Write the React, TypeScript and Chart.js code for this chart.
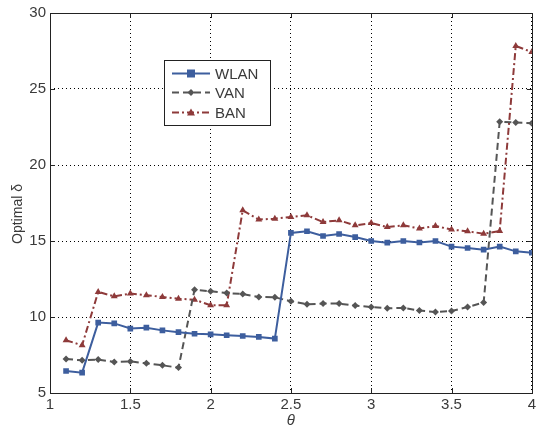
import React, { useEffect, useRef } from "react";
import { Chart, registerables } from "chart.js";

Chart.register(...registerables);

const thetas = [1.1, 1.2, 1.3, 1.4, 1.5, 1.6, 1.7, 1.8, 1.9, 2.0, 2.1, 2.2, 2.3, 2.4, 2.5, 2.6, 2.7, 2.8, 2.9, 3.0, 3.1, 3.2, 3.3, 3.4, 3.5, 3.6, 3.7, 3.8, 3.9, 4.0];
const wlan = [6.45, 6.34, 9.63, 9.58, 9.24, 9.3, 9.12, 9.0, 8.9, 8.86, 8.8, 8.75, 8.69, 8.58, 15.53, 15.64, 15.33, 15.46, 15.26, 15.0, 14.89, 15.0, 14.9, 15.0, 14.63, 14.54, 14.43, 14.63, 14.32, 14.23];
const van = [7.24, 7.15, 7.2, 7.04, 7.08, 6.95, 6.82, 6.67, 11.8, 11.69, 11.58, 11.51, 11.32, 11.3, 11.03, 10.84, 10.88, 10.88, 10.75, 10.66, 10.57, 10.6, 10.42, 10.33, 10.39, 10.66, 10.95, 22.85, 22.79, 22.75];
const ban = [8.47, 8.14, 11.65, 11.36, 11.54, 11.43, 11.32, 11.2, 11.14, 10.77, 10.77, 17.02, 16.41, 16.47, 16.58, 16.69, 16.25, 16.36, 16.03, 16.18, 15.92, 16.03, 15.82, 15.99, 15.75, 15.64, 15.48, 15.66, 27.83, 27.43];
const xTicks = [1, 1.5, 2, 2.5, 3, 3.5, 4];
const yTicks = [5, 10, 15, 20, 25, 30];
const seriesNames = ["WLAN", "VAN", "BAN"];
const yTitle = "Optimal δ";
const xTitle = "θ";

const BLUE = "#3d5e9e";
const GRAY = "#555555";
const RED = "#8e3a3a";
const TEXT = "#3a3a3a";
const FONT = "'Liberation Sans', Arial, sans-serif";

const toPts = (ys: number[]) => ys.map((y, i) => ({ x: thetas[i], y }));

const frame = {
  id: "frame",
  afterDraw(chart: any) {
    const { ctx, chartArea: a, scales } = chart;
    ctx.save();
    ctx.strokeStyle = "#222";
    ctx.lineWidth = 1;
    ctx.setLineDash([]);
    ctx.strokeRect(Math.round(a.left) + 0.5, Math.round(a.top) + 0.5, Math.round(a.right - a.left), Math.round(a.bottom - a.top));
    ctx.beginPath();
    for (const v of xTicks) {
      const x = Math.round(scales.x.getPixelForValue(v)) + 0.5;
      ctx.moveTo(x, a.bottom); ctx.lineTo(x, a.bottom - 5);
      ctx.moveTo(x, a.top); ctx.lineTo(x, a.top + 5);
    }
    for (const v of yTicks) {
      const y = Math.round(scales.y.getPixelForValue(v)) + 0.5;
      ctx.moveTo(a.left, y); ctx.lineTo(a.left + 5, y);
      ctx.moveTo(a.right, y); ctx.lineTo(a.right - 5, y);
    }
    ctx.stroke();

    // y axis title
    ctx.save();
    ctx.translate(18, 214);
    ctx.rotate(-Math.PI / 2);
    ctx.font = `14px ${FONT}`;
    ctx.fillStyle = TEXT;
    ctx.textAlign = "center";
    ctx.textBaseline = "middle";
    ctx.fillText(yTitle, 0, 0);
    ctx.restore();

    // legend box
    const lx = 164.5, ly = 60.5, lw = 106, lh = 65;
    ctx.fillStyle = "#ffffff";
    ctx.fillRect(lx, ly, lw, lh);
    ctx.strokeStyle = "#222";
    ctx.strokeRect(lx, ly, lw, lh);
    const cols = [BLUE, GRAY, RED];
    const dashes = [[], [7, 4], [7, 3, 2, 3]];
    const rows = [73.5, 92.5, 112.5];
    ctx.font = `15px ${FONT}`;
    ctx.textBaseline = "middle";
    for (let i = 0; i < 3; i++) {
      const y = rows[i];
      ctx.strokeStyle = cols[i];
      ctx.lineWidth = 2;
      ctx.setLineDash(dashes[i]);
      ctx.beginPath();
      ctx.moveTo(172, y); ctx.lineTo(210, y);
      ctx.stroke();
      ctx.setLineDash([]);
      ctx.fillStyle = cols[i];
      const cx = 191;
      ctx.beginPath();
      if (i === 0) ctx.rect(cx - 4, y - 4, 8, 8);
      else if (i === 1) { ctx.moveTo(cx, y - 3.5); ctx.lineTo(cx + 3.5, y); ctx.lineTo(cx, y + 3.5); ctx.lineTo(cx - 3.5, y); ctx.closePath(); }
      else { ctx.moveTo(cx, y - 4); ctx.lineTo(cx + 4, y + 3); ctx.lineTo(cx - 4, y + 3); ctx.closePath(); }
      ctx.fill();
      ctx.fillStyle = TEXT;
      ctx.fillText(seriesNames[i], 215, y + 1);
    }
    ctx.restore();
  },
};

export default function App() {
  const ref = useRef<HTMLCanvasElement>(null);
  useEffect(() => {
    if (!ref.current) return;
    const chart = new Chart(ref.current, {
      type: "line",
      data: {
        datasets: [
          { label: seriesNames[0], data: toPts(wlan), borderColor: BLUE, backgroundColor: BLUE, borderWidth: 2, pointStyle: "rect", pointRadius: 4, pointBorderWidth: 0, tension: 0 },
          { label: seriesNames[1], data: toPts(van), borderColor: GRAY, backgroundColor: GRAY, borderWidth: 2, borderDash: [7, 4], pointStyle: "rectRot", pointRadius: 3.5, pointBorderWidth: 0, tension: 0 },
          { label: seriesNames[2], data: toPts(ban), borderColor: RED, backgroundColor: RED, borderWidth: 2, borderDash: [7, 3, 2, 3], pointStyle: "triangle", pointRadius: 4, pointBorderWidth: 0, tension: 0 },
        ],
      },
      options: {
        animation: false,
        responsive: false,
        layout: { padding: { top: 12, right: 3, left: 0, bottom: 0 } },
        plugins: { legend: { display: false }, tooltip: { enabled: false } },
        scales: {
          x: {
            type: "linear",
            min: 1,
            max: 4,
            afterBuildTicks: (s: any) => { s.ticks = xTicks.map((v) => ({ value: v })); },
            afterFit: (s: any) => { s.height = 39; },
            ticks: { color: TEXT, font: { family: FONT, size: 15 }, padding: 3, maxRotation: 0, callback: (v: any) => String(v) },
            grid: { color: "#000", lineWidth: 1, tickLength: 0, drawTicks: false },
            border: { display: false, dash: [1, 3] },
            title: { display: true, text: xTitle, color: TEXT, font: { family: FONT, size: 15, style: "italic" }, padding: { top: 0, bottom: 2 } },
          },
          y: {
            type: "linear",
            min: 5,
            max: 30,
            afterBuildTicks: (s: any) => { s.ticks = yTicks.map((v) => ({ value: v })); },
            afterFit: (s: any) => { s.width = 50; },
            ticks: { color: TEXT, font: { family: FONT, size: 15 }, padding: 4 },
            grid: { color: "#000", lineWidth: 1, drawTicks: false },
            border: { display: false, dash: [1, 3] },
            title: { display: false },
          },
        },
      },
      plugins: [frame],
    } as any);
    return () => chart.destroy();
  }, []);
  return (
    <div style={{ position: "fixed", left: 0, top: 0, width: 539, height: 432, background: "#fff" }}>
      <canvas ref={ref} width={539} height={432} style={{ width: 539, height: 432 }} />
    </div>
  );
}
